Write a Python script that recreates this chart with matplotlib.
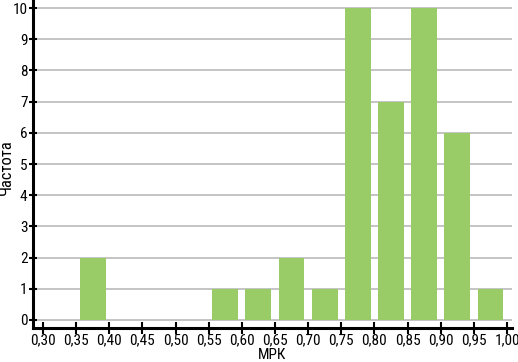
import numpy as np
import matplotlib
matplotlib.use("Agg")
import matplotlib.pyplot as plt

plt.rcParams['font.family'] = ['Roboto Condensed', 'PT Sans Narrow', 'DejaVu Sans']

# интервалы МРК (левые границы) и частоты
bin_left = [0.35, 0.55, 0.60, 0.65, 0.70, 0.75, 0.80, 0.85, 0.90, 0.95]
counts = [2, 1, 1, 2, 1, 10, 7, 10, 6, 1]
bin_w = 0.05
xticks = np.round(np.arange(0.30, 1.001, 0.05), 2)
yticks = list(range(0, 11))

fig = plt.figure(figsize=(5.18, 3.62), dpi=100)
ax = fig.add_axes([33 / 518, 1 - 328 / 362, (512 - 33) / 518, 328 / 362])

centers = [b + bin_w / 2 for b in bin_left]
ax.bar(centers, counts, width=0.039, color='#99cc66', zorder=3)

ax.set_xlim(0.285, 1.0075)
ax.set_ylim(-0.26, 10.26)
ax.set_xticks(xticks)
ax.set_xticklabels([f"{v:.2f}".replace('.', ',') for v in xticks])
ax.set_yticks(yticks)

for y in yticks:
    ax.axhline(y, color='#c4c4c4', lw=1.4, zorder=1)

for s in ['top', 'right']:
    ax.spines[s].set_visible(False)
for s in ['left', 'bottom']:
    ax.spines[s].set_linewidth(2.2)
    ax.spines[s].set_color('black')

ax.tick_params(axis='x', direction='inout', length=8, width=1.5, labelsize=11, pad=0)
ax.tick_params(axis='y', direction='inout', length=6, width=1.5, labelsize=11, pad=1)

ax.set_xlabel("МРК", fontsize=11, labelpad=0)
ax.set_ylabel("Частота", fontsize=12, va='center')
ax.yaxis.set_label_coords(-27 / 479, 0.49)

fig.savefig("out.png", dpi=100)
